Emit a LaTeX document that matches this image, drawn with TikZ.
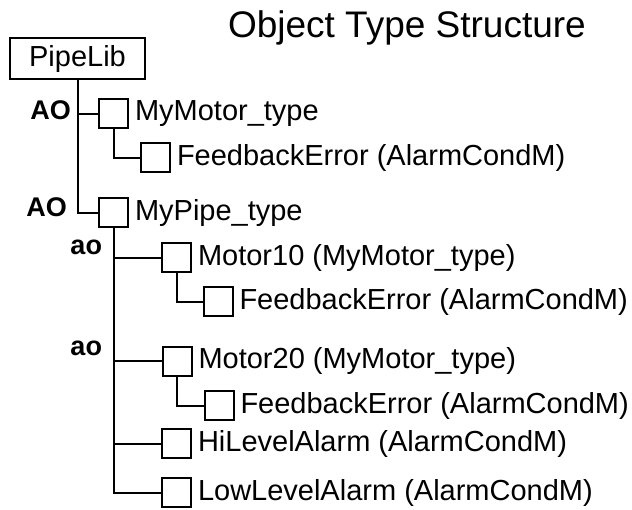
\documentclass[tikz,border=0pt]{standalone}
\usepackage{fontspec}
\setmainfont{Liberation Sans}
\usetikzlibrary{positioning}
\tikzset{objbox/.style={draw, line width=2pt, minimum size=29pt, inner sep=0pt},
  objname/.style={right, inner sep=0pt, font=\fontsize{29}{34}\selectfont},
  aggr/.style={left, inner sep=0pt, font=\fontsize{27}{32}\selectfont\bfseries}}

\begin{document}
\begin{tikzpicture}[x=1pt,y=-1pt,line width=2pt]
\useasboundingbox (0,0) rectangle (632,509);
\node[anchor=base west, inner sep=0pt, font=\fontsize{37}{42}\selectfont] (title) at (227,37) {Object Type Structure};
\node[draw, minimum width=135pt, minimum height=41pt, inner sep=0pt, font=\fontsize{29}{34}\selectfont] (pipelib) at (77.5,58.5) {PipeLib};
% types in the library
\node[objbox] (mymotor) at (113.5,113.5) {};
\node[objname] (mymotorname) at ([xshift=5pt]mymotor.east) {MyMotor\_type};
\node[objbox] (fb1) at (155.5,157.5) {};
\node[objname] (fb1name) at ([xshift=5pt]fb1.east) {FeedbackError (AlarmCondM)};
\node[objbox] (mypipe) at (113.5,212.5) {};
\node[objname] (mypipename) at ([xshift=5pt]mypipe.east) {MyPipe\_type};
\node[aggr] (ao1) at (72,110) {AO};
\node[aggr] (ao2) at (68,207) {AO};
% children of MyPipe_type
\node[objbox] (motor10) at (176.5,257.5) {};
\node[objname] (motor10name) at ([xshift=5pt]motor10.east) {Motor10 (MyMotor\_type)};
\node[objbox] (fb2) at (218,301.5) {};
\node[objname] (fb2name) at ([xshift=5pt]fb2.east) {FeedbackError (AlarmCondM)};
\node[objbox] (motor20) at (177,361) {};
\node[objname] (motor20name) at ([xshift=5pt]motor20.east) {Motor20 (MyMotor\_type)};
\node[objbox] (fb3) at (219,405.5) {};
\node[objname] (fb3name) at ([xshift=5pt]fb3.east) {FeedbackError (AlarmCondM)};
\node[objbox] (hilevel) at (176.5,443.5) {};
\node[objname] (hilevelname) at ([xshift=5pt]hilevel.east) {HiLevelAlarm (AlarmCondM)};
\node[objbox] (lowlevel) at (176.5,492.5) {};
\node[objname] (lowlevelname) at ([xshift=5pt]lowlevel.east) {LowLevelAlarm (AlarmCondM)};
\node[aggr] (ao3) at (103,247) {ao};
\node[aggr] (ao4) at (103,348) {ao};
% tree lines
\draw (pipelib.south) |- (mymotor.west);
\draw (pipelib.south) |- (mypipe.west);
\draw (mymotor.south) |- (fb1.west);
\draw (mypipe.south) |- (motor10.west);
\draw (mypipe.south) |- (motor20.west);
\draw (mypipe.south) |- (hilevel.west);
\draw (mypipe.south) |- (lowlevel.west);
\draw (motor10.south) |- (fb2.west);
\draw (motor20.south) |- (fb3.west);
\end{tikzpicture}
\end{document}
